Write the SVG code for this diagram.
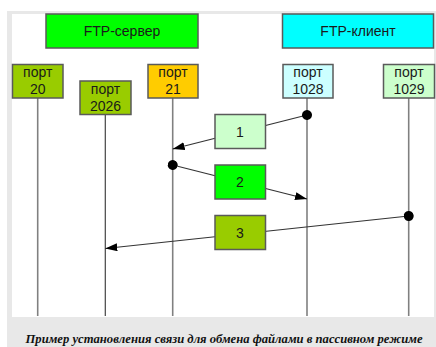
<svg xmlns="http://www.w3.org/2000/svg" width="436" height="347" viewBox="0 0 436 347">
<defs>
<marker id="arr" viewBox="0 0 12 8" refX="12" refY="4" markerWidth="12" markerHeight="8" markerUnits="userSpaceOnUse" orient="auto">
<path d="M0,0 L12,4 L0,8 Z" fill="#000"/>
</marker>
<marker id="dot" viewBox="0 0 10 10" refX="5" refY="5" markerWidth="10" markerHeight="10" markerUnits="userSpaceOnUse" orient="auto">
<circle cx="5" cy="5" r="5" fill="#000"/>
</marker>
</defs>
<style>
.box{stroke:#5a5a5a;stroke-width:1.5}
.t{font-family:"Liberation Sans",Arial,sans-serif;font-size:14px;fill:#1a1a1a;text-anchor:middle}
.life{stroke:#808080;stroke-width:1.6;fill:none}
.conn{stroke:#333;stroke-width:1.2;fill:none}
.cap{font-family:"Liberation Serif","Times New Roman",serif;font-size:13px;font-weight:bold;font-style:italic;fill:#111;text-anchor:middle}
</style>
<rect x="0" y="0" width="436" height="347" fill="#ffffff"/>
<rect x="7" y="11" width="429" height="336" fill="#e8e8e8"/>
<rect x="12" y="14" width="422" height="303" fill="#ffffff"/>

<g id="lifelines">
<line class="life" x1="37.7" y1="98" x2="37.7" y2="316"/>
<line class="life" x1="105.3" y1="115" x2="105.3" y2="316" style="stroke:#444;stroke-width:1.2"/>
<line class="life" x1="172.7" y1="98" x2="172.7" y2="316"/>
<line class="life" x1="307" y1="98" x2="307" y2="316"/>
<line class="life" x1="408.7" y1="98" x2="408.7" y2="316"/>
</g>

<g id="connectors">
<line class="conn" x1="307" y1="115" x2="172.7" y2="149" marker-start="url(#dot)" marker-end="url(#arr)"/>
<line class="conn" x1="172.7" y1="165" x2="307" y2="199" marker-start="url(#dot)" marker-end="url(#arr)"/>
<line class="conn" x1="408.7" y1="216" x2="105.3" y2="248.5" marker-start="url(#dot)" marker-end="url(#arr)"/>
</g>

<g id="server">
<rect class="box" x="46" y="14" width="152" height="34" fill="#00ff00"/>
<text class="t" x="122" y="36">FTP-сервер</text>
</g>
<g id="client">
<rect class="box" x="282.5" y="14" width="151" height="34" fill="#00ffff"/>
<text class="t" x="358" y="36">FTP-клиент</text>
</g>

<g id="port20">
<rect class="box" x="12.5" y="64.5" width="50.5" height="33.5" fill="#99cc00"/>
<text class="t" x="37.7" y="77">порт</text>
<text class="t" x="37.7" y="94">20</text>
</g>
<g id="port2026">
<rect class="box" x="80" y="81" width="51" height="33.5" fill="#99cc00"/>
<text class="t" x="105.5" y="94">порт</text>
<text class="t" x="105.5" y="111">2026</text>
</g>
<g id="port21">
<rect class="box" x="148" y="64.5" width="50" height="33.5" fill="#ffcc00"/>
<text class="t" x="173" y="77">порт</text>
<text class="t" x="173" y="94">21</text>
</g>
<g id="port1028">
<rect class="box" x="283" y="64.5" width="50" height="33.5" fill="#ccffff"/>
<text class="t" x="308" y="77">порт</text>
<text class="t" x="308" y="94">1028</text>
</g>
<g id="port1029">
<rect class="box" x="383.5" y="64.5" width="51" height="33.5" fill="#ccffcc"/>
<text class="t" x="409" y="77">порт</text>
<text class="t" x="409" y="94">1029</text>
</g>

<g id="msg1">
<rect class="box" x="215" y="114.5" width="50.5" height="34" fill="#ccffcc"/>
<text class="t" x="240" y="136.5">1</text>
</g>
<g id="msg2">
<rect class="box" x="215" y="165" width="50.5" height="34" fill="#00ff00"/>
<text class="t" x="240" y="187">2</text>
</g>
<g id="msg3">
<rect class="box" x="215" y="215.5" width="50.5" height="34" fill="#99cc00"/>
<text class="t" x="240" y="237.5">3</text>
</g>

<text class="cap" x="224" y="343" textLength="397" lengthAdjust="spacingAndGlyphs">Пример установления связи для обмена файлами в пассивном режиме</text>
</svg>
